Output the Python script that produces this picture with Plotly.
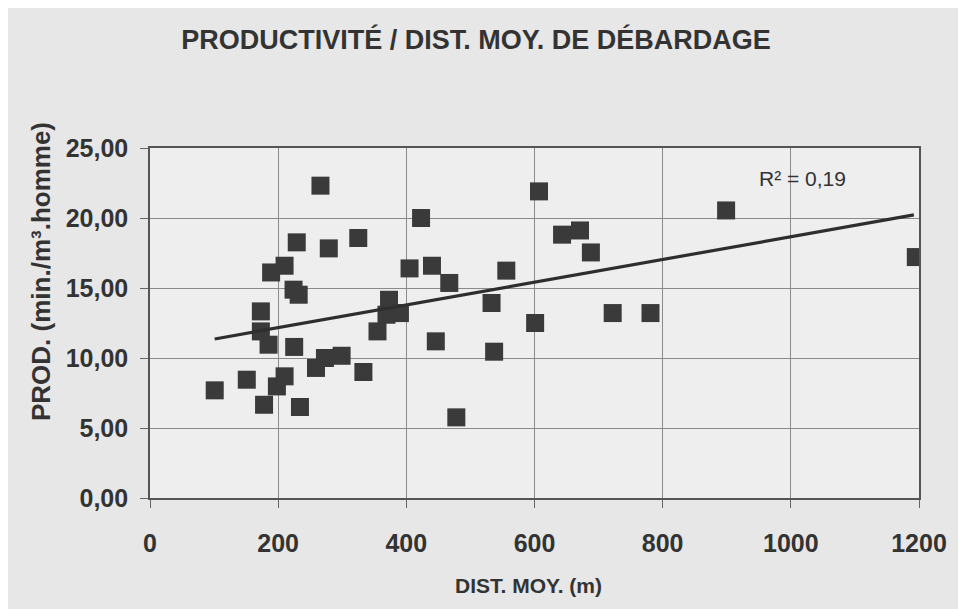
import plotly.graph_objects as go

# Data
dist_m = [101, 151, 178, 173, 173, 185, 189, 210, 198, 210, 229, 224, 232, 225, 234,
          266, 259, 273, 279, 299, 325, 333, 355, 373, 369, 390, 405, 423, 440, 446,
          467, 478, 533, 556, 537, 607, 601, 643, 671, 688, 722, 781, 899, 1195]
prod = [7.69, 8.45, 6.66, 13.33, 11.90, 10.95, 16.11, 16.59, 7.97, 8.69, 18.26, 14.88,
        14.52, 10.79, 6.50, 22.31, 9.29, 10.00, 17.83, 10.16, 18.57, 9.00, 11.90, 14.16,
        13.09, 13.21, 16.40, 20.00, 16.59, 11.19, 15.36, 5.76, 13.93, 16.24, 10.45,
        21.90, 12.50, 18.81, 19.11, 17.54, 13.21, 13.21, 20.54, 17.21]

trend_x = [101, 1192]
trend_y = [11.36, 20.22]

x_ticks = [0, 200, 400, 600, 800, 1000, 1200]
y_ticks = [0, 5, 10, 15, 20, 25]
y_tick_labels = ["0,00", "5,00", "10,00", "15,00", "20,00", "25,00"]

title_text = "PRODUCTIVITÉ / DIST. MOY. DE DÉBARDAGE"
x_title = "DIST. MOY. (m)"
y_title = "PROD. (min./m³.homme)"
r2_text = "R² = 0,19"

FONT = "Liberation Sans, Arial, Helvetica, sans-serif"
INK = "#333333"
OFF = 8  # page body margin
W, H = 966 - OFF, 609 - OFF
L, T = 150 - OFF, 148 - OFF
R = W - (919 - OFF)
B = H - (498 - OFF)
PW, PH = W - L - R, H - T - B


def px_x(x):
    return (x - OFF - L) / PW


def px_y(y):
    return ((H - B) - (y - OFF)) / PH


fig = go.Figure()
fig.add_trace(go.Scatter(
    x=dist_m, y=prod, mode="markers",
    marker=dict(symbol="square", size=18, color="#3a3a3a", line=dict(width=0)),
    showlegend=False, hoverinfo="x+y"))
fig.add_trace(go.Scatter(
    x=trend_x, y=trend_y, mode="lines",
    line=dict(color="#2e2e2e", width=3.2),
    showlegend=False, hoverinfo="skip"))

axis_common = dict(
    showgrid=True, gridcolor="#8a8a8a", gridwidth=1,
    showline=True, linecolor="#555555", linewidth=1.6, mirror=True,
    ticks="outside", ticklen=8, tickwidth=1, tickcolor="#666666",
    zeroline=False, automargin=False,
    tickfont=dict(family=FONT, size=25, color=INK, weight="bold"),
)

fig.update_xaxes(range=[0, 1200], tickvals=x_ticks, ticktext=[str(v) for v in x_ticks],
                 ticklabelstandoff=14, **axis_common)
fig.update_yaxes(range=[0, 25], tickvals=y_ticks, ticktext=y_tick_labels,
                 ticklabelstandoff=7, **axis_common)

fig.update_layout(
    width=W, height=H,
    margin=dict(l=L, r=R, t=T, b=B),
    paper_bgcolor="#e7e7e7",
    plot_bgcolor="#eeeeee",
    font=dict(family=FONT, color=INK),
    title=dict(text=title_text, x=(476 - OFF) / W, xanchor="center", xref="container",
               y=1 - (40 - OFF) / H, yanchor="middle", yref="container",
               font=dict(family=FONT, size=27, color=INK, weight="bold")),
    annotations=[
        dict(text=x_title, x=px_x(528), y=px_y(585),
             xref="paper", yref="paper", xanchor="center", yanchor="middle",
             showarrow=False, font=dict(family=FONT, size=21, color=INK, weight="bold")),
        dict(text=y_title, x=px_x(41), y=px_y(272),
             xref="paper", yref="paper", xanchor="center", yanchor="middle", textangle=-90,
             showarrow=False, font=dict(family=FONT, size=26, color=INK, weight="bold")),
        dict(text=r2_text, x=px_x(802), y=px_y(178),
             xref="paper", yref="paper", xanchor="center", yanchor="middle",
             showarrow=False, font=dict(family=FONT, size=21, color=INK)),
    ],
)

fig.write_html("out.html")
